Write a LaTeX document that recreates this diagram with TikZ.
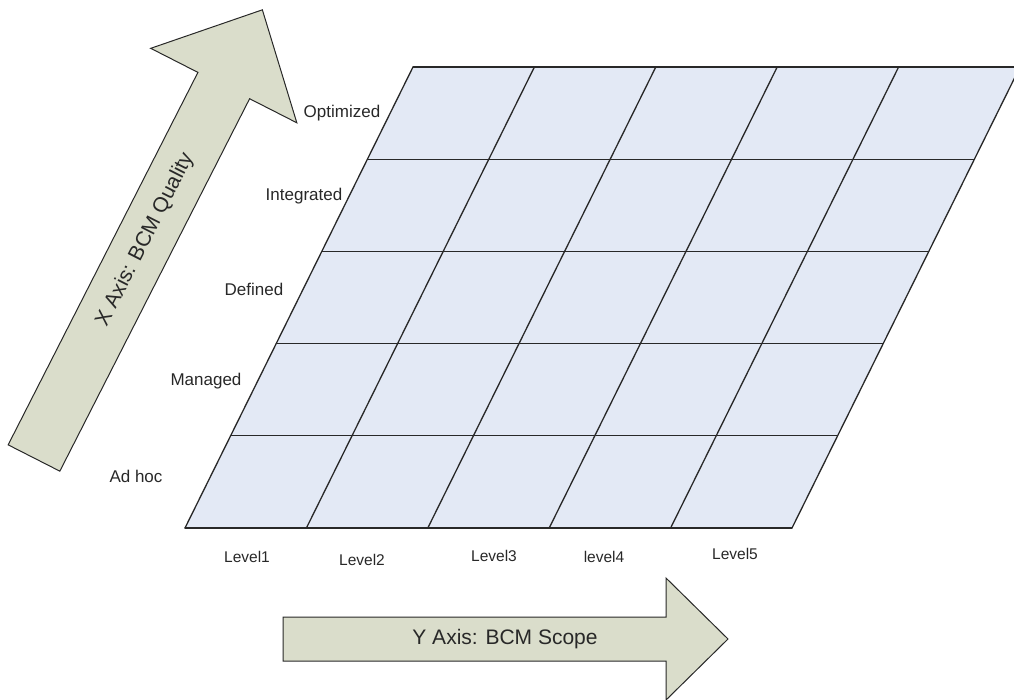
\documentclass[tikz,border=0pt]{standalone}
\usepackage{fontspec}
\setmainfont{Liberation Sans}
\usetikzlibrary{positioning}

\definecolor{cellfill}{RGB}{227,233,245}
\definecolor{axisfill}{RGB}{218,221,203}
\definecolor{inkgray}{RGB}{40,40,40}

\begin{document}
\begin{tikzpicture}[
        x=1pt, y=-1pt,
        font=\fontsize{17}{20}\selectfont,
        text=inkgray,
        grid/.style={draw=inkgray, line width=1.3pt, line cap=round},
        axis/.style={draw=inkgray, fill=axisfill, line width=1pt, line join=miter},
        axislabel/.style={font=\fontsize{21}{24}\selectfont, inner sep=0pt},
        rowlabel/.style={inner sep=0pt},
        collabel/.style={font=\fontsize{15.5}{18}\selectfont, inner sep=0pt}
    ]

    \useasboundingbox (0,0) rectangle (1014,699);
    \clip (0,0) rectangle (1014,699);

    % grid
    \fill[cellfill] (185,528) -- (792,528) -- (1020,67) -- (413,67) -- cycle;
    \foreach \i in {0,...,5} {
        \draw[grid] (185+\i*45.6, 528-\i*92.2) -- (792+\i*45.6, 528-\i*92.2);
        \draw[grid] (185+\i*121.4, 528) -- (413+\i*121.4, 67);
    }

    % x axis arrow
    \begin{scope}[shift={(34,458)}, rotate=63]
        \draw[axis] (0,-29) -- (418,-29) -- (418,-82) -- (503,0)
            -- (418,82) -- (418,29) -- (0,29) -- cycle;
        \node[axislabel, transform shape] (xaxis) at (245,0) {X Axis: BCM Quality};
    \end{scope}

    % y axis arrow
    \draw[axis] (283,617) -- (666,617) -- (666,578) -- (728,639)
        -- (666,700) -- (666,661) -- (283,661) -- cycle;
    \node[axislabel] (yaxis) at (505,639) {Y Axis: BCM Scope};

    % quality levels
    \node[rowlabel] (optimized)  at (342,113) {Optimized};
    \node[rowlabel] (integrated) at (304,196) {Integrated};
    \node[rowlabel] (defined)    at (254,289) {Defined};
    \node[rowlabel] (managed)    at (206,381) {Managed};
    \node[rowlabel] (adhoc)      at (136,476) {Ad hoc};

    % scope levels
    \node[collabel] (level1) at (247,557) {Level1};
    \node[collabel] (level2) at (362,560) {Level2};
    \node[collabel] (level3) at (494,556) {Level3};
    \node[collabel] (level4) at (604,557) {level4};
    \node[collabel] (level5) at (735,554) {Level5};

\end{tikzpicture}
\end{document}
